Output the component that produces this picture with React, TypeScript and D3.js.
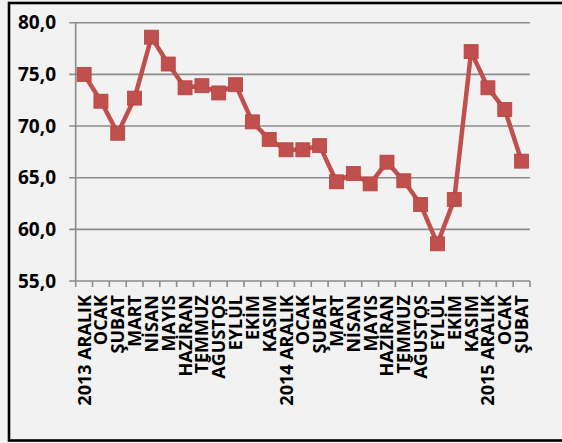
import React from "react";
import * as d3 from "d3";

const categories = [
  "2013 ARALIK", "OCAK", "ŞUBAT", "MART", "NİSAN", "MAYIS", "HAZİRAN", "TEMMUZ", "AĞUSTOS", "EYLÜL", "EKİM", "KASIM",
  "2014 ARALIK", "OCAK", "ŞUBAT", "MART", "NİSAN", "MAYIS", "HAZİRAN", "TEMMUZ", "AĞUSTOS", "EYLÜL", "EKİM", "KASIM",
  "2015 ARALIK", "OCAK", "ŞUBAT",
];
const values = [
  75.0, 72.4, 69.3, 72.7, 78.6, 76.0, 73.7, 73.9, 73.2, 74.0, 70.4, 68.7,
  67.7, 67.7, 68.1, 64.6, 65.4, 64.4, 66.5, 64.7, 62.4, 58.6, 62.9, 77.2,
  73.7, 71.6, 66.6,
];
const yTicks = [55, 60, 65, 70, 75, 80];

const W = 562;
const H = 443;
const left = 75.7;
const right = 530;
const top = 22.7;
const bottom = 281;
const COLOR = "#c0504d";
const GRID = "#8c8c8c";
const FONT = "'Open Sans', sans-serif";

const fmt = d3.formatLocale({ decimal: ",", thousands: ".", grouping: [3], currency: ["", ""] }).format(".1f");

export default function App() {
  const x = d3.scaleBand<number>().domain(d3.range(categories.length)).range([left, right]);
  const y = d3.scaleLinear().domain([55, 80]).range([bottom, top]);
  const cx = (i: number) => (x(i) as number) + x.bandwidth() / 2;
  const line = d3.line<number>().x((_, i) => cx(i)).y((d) => y(d));
  const boundaries = d3.range(categories.length + 1).map((i) => left + i * x.step());
  const ms = 14;

  return (
    <svg width={W} height={H} style={{ position: "absolute", left: 0, top: 0, display: "block" }}>
      <rect x={0} y={0} width={W} height={H} fill="#f2f2f2" />
      <rect x={9} y={3} width={600} height={437.5} fill="#f2f2f2" stroke="#000" strokeWidth={2.6} />
      {yTicks.map((t) => (
        <g key={t}>
          <line x1={left - 6.5} x2={t === 55 ? left : right} y1={y(t)} y2={y(t)} stroke={GRID} strokeWidth={1.6} />
          <text x={56} y={y(t)} dy="0.35em" textAnchor="end" fontFamily={FONT} fontWeight={700} fontSize={19} fill="#000">
            {fmt(t)}
          </text>
        </g>
      ))}
      <line x1={left} x2={left} y1={top} y2={bottom} stroke={GRID} strokeWidth={1.6} />
      <line x1={left} x2={right} y1={bottom} y2={bottom} stroke={GRID} strokeWidth={1.6} />
      {boundaries.map((b, i) => (
        <line key={i} x1={b} x2={b} y1={bottom} y2={bottom + 6} stroke={GRID} strokeWidth={1.6} />
      ))}
      {categories.map((c, i) => (
        <text
          key={i}
          transform={`translate(${cx(i)},${295}) rotate(-90)`}
          textAnchor="end"
          dy="0.36em"
          fontFamily={FONT}
          fontWeight={700}
          fontSize={18}
          fill="#000"
        >
          {c}
        </text>
      ))}
      <path d={line(values) || ""} fill="none" stroke={COLOR} strokeWidth={4.5} strokeLinejoin="round" />
      {values.map((v, i) => (
        <rect
          key={i}
          x={cx(i) - ms / 2}
          y={y(v) - ms / 2}
          width={ms}
          height={ms}
          fill={COLOR}
          stroke="#b9403d"
          strokeWidth={0.8}
        />
      ))}
    </svg>
  );
}
